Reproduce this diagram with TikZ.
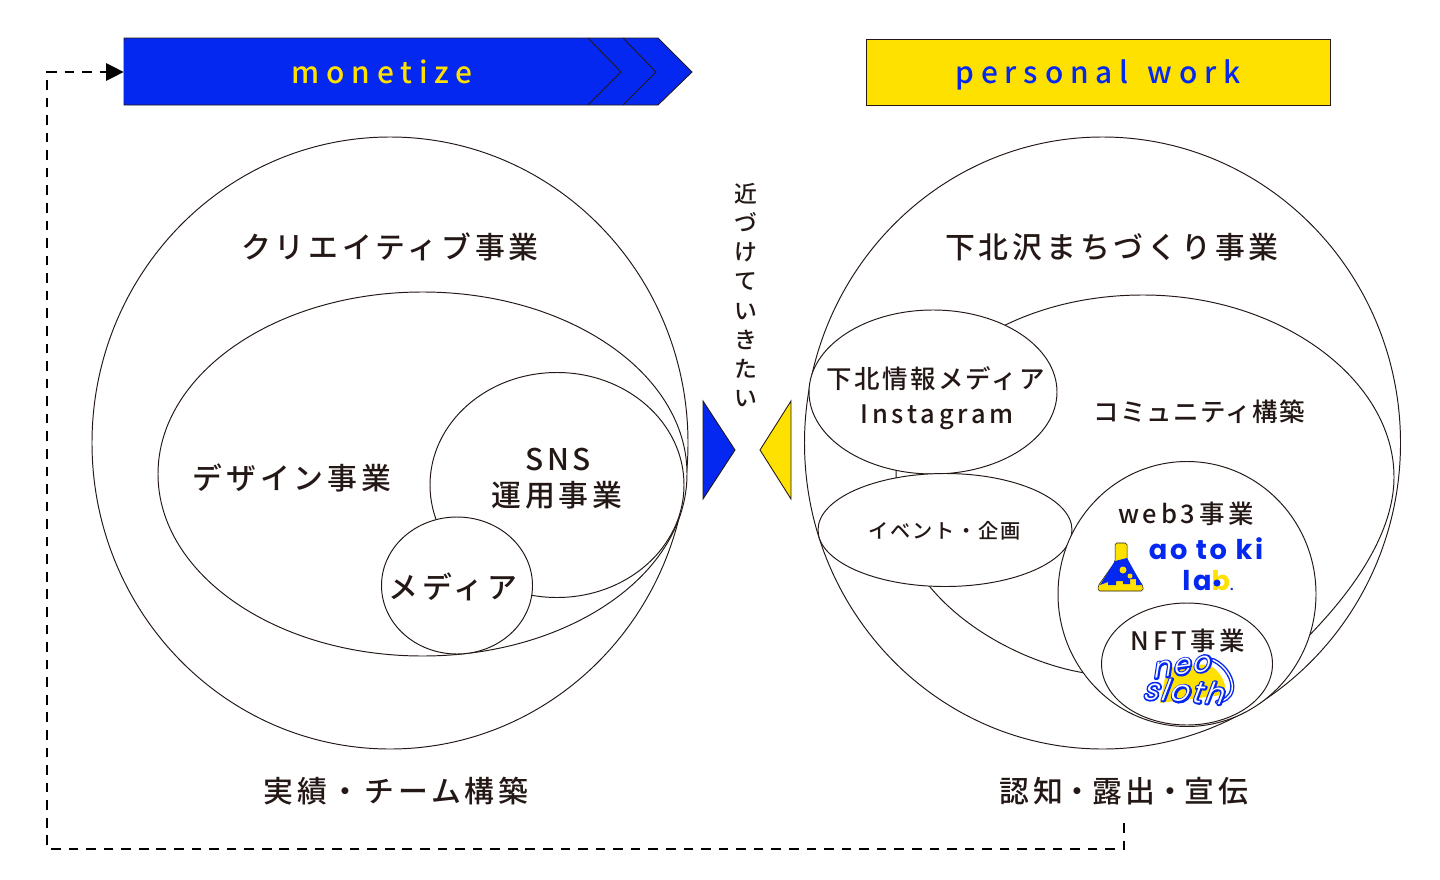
\documentclass[tikz,border=0pt]{standalone}
\usepackage{fontspec}
\usepackage{xcolor}
\usetikzlibrary{positioning,arrows.meta,shapes.geometric}
\setmainfont{Noto Sans CJK JP Medium}
\newfontfamily\jpwide[LetterSpace=13]{Noto Sans CJK JP Medium}
\newfontfamily\jpmid[LetterSpace=9]{Noto Sans CJK JP Medium}
\newfontfamily\jpnarrow[LetterSpace=5]{Noto Sans CJK JP Medium}
\newfontfamily\latinwide[LetterSpace=15]{Noto Sans CJK JP Medium}
\newfontfamily\enwide[LetterSpace=23]{Noto Sans CJK JP Medium}
\newfontfamily\logofont[LetterSpace=10]{Poppins Bold}
\newfontfamily\slothfont[FakeSlant=0.3,LetterSpace=8]{Poppins Light}
\definecolor{inkblack}{HTML}{231815}
\definecolor{aoblue}{HTML}{0528F0}
\definecolor{kiyellow}{HTML}{FFE100}
\newcommand{\slothword}[1]{\rlap{\special{pdf:code q 2 Tr 1.9 w 1 j 0.02 0.157 0.94 RG 0.02 0.157 0.94 rg}#1\special{pdf:code Q}}{\color{white}#1}}
\newcommand{\tightdot}{\kern-.02em・\kern-.02em}
\begin{document}
\begin{tikzpicture}[
    x=0.02cm,
    y=-0.02cm,
    blob/.style={
        draw=inkblack,
        fill=white,
        ellipse,
        inner sep=0pt,
        line width=0.55pt
    },
    biglabel/.style={
        text=inkblack,
        inner sep=0pt,
        font=\jpwide\fontsize{17}{20}\selectfont
    },
    midlabel/.style={
        text=inkblack,
        inner sep=0pt,
        font=\jpmid\fontsize{14.5}{17}\selectfont
    },
    tag/.style={
        inner sep=0pt,
        text height=15pt,
        text depth=2.4pt,
        font=\enwide\fontsize{17}{20}\selectfont
    },
    logotext/.style={
        text=aoblue,
        inner sep=0pt,
        font=\logofont\fontsize{15.5}{18}\selectfont
    },
    triedge/.style={
        draw=inkblack,
        line width=0.5pt
    },
    dashline/.style={
        -{Triangle[length=10pt,width=10pt]},
        draw=black,
        line width=0.75pt,
        dash pattern=on 5.5pt off 4.5pt
    }
]
\useasboundingbox (0,0) rectangle (1440,879);

% banners
\draw[triedge,fill=aoblue] (124,38) -- (658,38) -- (692,72) -- (658,105) -- (124,105) -- cycle;
\node[fill=aoblue, tag, text=kiyellow, minimum width=516*0.02cm, minimum height=60*0.02cm] (monetize) at (382,72) {monetize};
\draw[triedge] (588,38) -- (621,72) -- (588,105);
\draw[triedge] (623,38) -- (656,72) -- (623,105);
\node[draw=inkblack, fill=kiyellow, tag, text=aoblue, line width=0.5pt, minimum width=464*0.02cm, minimum height=66*0.02cm] (personal) at (1098,72) {personal\hspace{3pt} work};

% left circles
\node[blob, minimum width=596*0.02cm, minimum height=612*0.02cm] (creative) at (390,443) {};
\node[blob, minimum width=529*0.02cm, minimum height=364*0.02cm] (design) at (422.5,474) {};
\node[blob, minimum width=254*0.02cm, minimum height=225*0.02cm] (sns) at (557,485) {};
\node[blob, minimum width=151*0.02cm, minimum height=137*0.02cm] (media) at (457,585.5) {};

\node[biglabel] (creativelabel) at (390,247) {クリエイティブ事業};
\node[biglabel] (designlabel) at (292,478) {デザイン事業};
\node[biglabel] (snslabel) at (558,460) {SNS};
\node[biglabel] (unyolabel) at (557,495) {運用事業};
\node[biglabel] (medialabel) at (453,587) {メディア};
\node[biglabel] (teamlabel) at (396,791) {実績・チーム構築};

% middle
\draw[triedge,fill=aoblue] (703,401) -- (735,450) -- (703,499) -- cycle;
\draw[triedge,fill=kiyellow] (791,401) -- (760,450) -- (791,499) -- cycle;
\node[text=inkblack, inner sep=0pt, align=center, font=\fontsize{13}{16.6}\selectfont] (closer) at (746,295) {近\\づ\\け\\て\\い\\き\\た\\い};

% right circles
\node[blob, minimum width=596*0.02cm, minimum height=612*0.02cm] (shimokita) at (1102.5,443) {};
\draw[draw=inkblack, fill=white, line width=0.55pt] (1143,295) .. controls (1281,295) and (1394,380) .. (1394,477) .. controls (1394,555) and (1315,640) .. (1230,705) .. controls (1180,710) and (1130,685) .. (1085,673) .. controls (1035,665) and (970,635) .. (930,587) .. controls (905,560) and (896,515) .. (896,470) .. controls (896,380) and (1000,295) .. (1143,295) -- cycle;
\node[blob, minimum width=248*0.02cm, minimum height=164*0.02cm] (insta) at (933,392) {};
\node[blob, minimum width=254*0.02cm, minimum height=113*0.02cm] (event) at (945,530) {};
\node[blob, minimum width=258*0.02cm, minimum height=265*0.02cm] (web) at (1187,594) {};
\node[blob, minimum width=171*0.02cm, minimum height=122*0.02cm] (nft) at (1187,664) {};

\node[biglabel] (shimokitalabel) at (1112,247) {下北沢まちづくり事業};
\node[midlabel] (instalabel) at (936,379) {下北情報メディア};
\node[midlabel, font=\latinwide\fontsize{14.5}{17}\selectfont] (instaname) at (937,417) {Instagram};
\node[midlabel, font=\jpnarrow\fontsize{14.5}{17}\selectfont] (communitylabel) at (1199,412) {コミュニティ構築};
\node[midlabel, font=\jpmid\fontsize{11.5}{14}\selectfont] (eventlabel) at (945,531) {イベント・企画};
\node[midlabel, font=\latinwide\fontsize{14.5}{17}\selectfont] (weblabel) at (1186,514) {web3事業};
\node[midlabel, font=\latinwide\fontsize{14.5}{17}\selectfont] (nftlabel) at (1188,641) {NFT事業};
\node[biglabel] (noticelabel) at (1124,791) {認知\tightdot 露出\tightdot 宣伝};

% flask
\draw[fill=kiyellow, draw=inkblack, line width=0.3pt, rounded corners=1pt] (1115,543) -- (1127,543) -- (1127,562) -- (1143,586) -- (1143,591) -- (1098,591) -- (1098,586) -- (1115,562) -- cycle;
\fill[aoblue] (1115,561) -- (1127,558) -- (1142,585) -- (1136,585) -- (1136,579) -- (1130,579) -- (1130,584) -- (1123,584) -- (1123,581) -- (1116,581) -- (1116,585) -- (1108,585) -- (1108,582) -- (1100,585) -- cycle;
\fill[kiyellow] (1123,570) circle (3.5);
\fill[kiyellow] (1130,576) circle (2.5);
\node[logotext] (aotoki) at (1206,549) {ao to ki};
\node[logotext] (lab) at (1208,581) {la\textcolor{kiyellow}{b}\textcolor{aoblue}{\fontsize{7}{8}\selectfont .}};
\fill[aoblue] (1217,583) circle (3.5);

% sloth
\fill[kiyellow] (1167,667) -- (1188,668) .. controls (1200,662) and (1212,664) .. (1218,672) .. controls (1226,682) and (1227,690) .. (1222,695) -- (1160,703) -- (1163,688) -- cycle;
\draw[aoblue, line width=2.4pt, line cap=round] (1213,660) .. controls (1226,666) and (1234,680) .. (1232,690) .. controls (1230,698) and (1224,701) .. (1217,702);
\draw[white, line width=0.8pt, line cap=round] (1213,660) .. controls (1226,666) and (1234,680) .. (1232,690) .. controls (1230,698) and (1224,701) .. (1217,702);
\node[inner sep=0pt, rotate=8, font=\slothfont\fontsize{16}{18}\selectfont] (neo) at (1181,667) {\slothword{neo}};
\node[inner sep=0pt, rotate=-4, font=\slothfont\fontsize{17}{19}\selectfont] (sloth) at (1183,691) {\slothword{sloth}};

% feedback line
\coordinate (feedback) at (1124,823);
\draw[dashline] (feedback) -- (1124,849) -- (47,849) -- (47,72) -- (monetize.west);

\end{tikzpicture}
\end{document}
